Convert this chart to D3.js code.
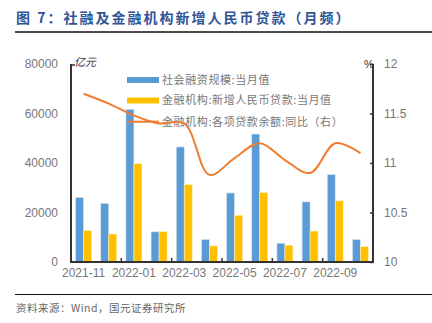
<!DOCTYPE html>
<html><head><meta charset="utf-8">
<script src="https://cdn.jsdelivr.net/npm/d3@7/dist/d3.min.js"></script>
<style>
body{margin:0;background:#fff;}
svg{display:block;font-family:"Liberation Sans",Arial,sans-serif;}
</style></head>
<body><svg id="c" width="432" height="323"></svg>
<script>
const months = ["2021-11","2021-12","2022-01","2022-02","2022-03","2022-04","2022-05","2022-06","2022-07","2022-08","2022-09","2022-10"];
const socialFinancing = [26100,23700,61700,12200,46500,9100,27900,51700,7600,24300,35300,9100];
const newLoans = [12700,11300,39800,12300,31300,6500,18900,28100,6800,12500,24700,6200];
const loanGrowth = [11.7,11.6,11.48,11.4,11.4,10.88,11.05,11.2,11.03,10.9,11.2,11.1];
const leftTicks = [0,20000,40000,60000,80000];
const rightTicks = [10,10.5,11,11.5,12];
const rightTickLabels = ["10","10.5","11","11.5","12"];
const xLabels = ["2021-11","2022-01","2022-03","2022-05","2022-07","2022-09"];
const seriesNames = ["社会融资规模:当月值","金融机构:新增人民币贷款:当月值","金融机构:各项贷款余额:同比（右）"];

const svg = d3.select("#c");
const L = 71, R = 373, T = 64, B = 262;
const cjk = '"Noto Sans CJK SC","Noto Sans",sans-serif';

// title
svg.append("text").attr("x",16).attr("y",23).attr("font-family",cjk).attr("font-weight","bold")
  .attr("font-size",14).attr("fill","#2F5597").attr("letter-spacing",2).text("图 7：社融及金融机构新增人民币贷款（月频）");
svg.append("line").attr("x1",15).attr("x2",432).attr("y1",32).attr("y2",32).attr("stroke","#111").attr("stroke-width",1.6);
svg.append("line").attr("x1",15).attr("x2",432).attr("y1",294.5).attr("y2",294.5).attr("stroke","#111").attr("stroke-width",1.2);
svg.append("text").attr("x",16).attr("y",312).attr("font-family",cjk).attr("font-size",10.5).attr("fill","#666")
  .attr("letter-spacing",0.5).text("资料来源：Wind，国元证券研究所");

const x = d3.scaleBand().domain(months).range([L,R]);
const yL = d3.scaleLinear().domain([0,80000]).range([B,T]);
const yR = d3.scaleLinear().domain([10,12]).range([B,T]);
const bw = 8;

// bars
const g = svg.append("g");
g.selectAll(".b1").data(months).enter().append("rect")
  .attr("x",d=>x(d)+x.bandwidth()/2-bw).attr("width",bw)
  .attr("y",(d,i)=>yL(socialFinancing[i])).attr("height",(d,i)=>B-yL(socialFinancing[i]))
  .attr("fill","#5B9BD5").attr("stroke","#dbe8f5").attr("stroke-width",0.6);
g.selectAll(".b2").data(months).enter().append("rect")
  .attr("x",d=>x(d)+x.bandwidth()/2).attr("width",bw)
  .attr("y",(d,i)=>yL(newLoans[i])).attr("height",(d,i)=>B-yL(newLoans[i]))
  .attr("fill","#FFC000").attr("stroke","#fff0c0").attr("stroke-width",0.6);

// legend
const lg = svg.append("g").attr("font-family",cjk).attr("font-size",11).attr("fill","#777").attr("letter-spacing",0.6);
lg.append("rect").attr("x",127).attr("y",77).attr("width",32).attr("height",6).attr("fill","#5B9BD5");
lg.append("rect").attr("x",127).attr("y",97.5).attr("width",32).attr("height",6).attr("fill","#FFC000");
lg.append("line").attr("x1",127).attr("x2",159).attr("y1",121.7).attr("y2",121.7).attr("stroke","#ED7D31").attr("stroke-width",2);
[80,100.5,121.7].forEach((yy,i)=>lg.append("text").attr("x",162).attr("y",yy).attr("dy","0.35em").text(seriesNames[i]));

// line
const line = d3.line().x((d,i)=>x(months[i])+x.bandwidth()/2).y(d=>yR(d)).curve(d3.curveCatmullRom.alpha(0.5));
svg.append("path").datum(loanGrowth).attr("d",line).attr("fill","none").attr("stroke","#ED7D31").attr("stroke-width",2);

// axes
const axCol = "#333";
const gl = svg.append("g").attr("transform",`translate(${L},0)`)
  .call(d3.axisLeft(yL).tickValues(leftTicks).tickSize(0).tickPadding(13).tickFormat(d3.format("d")));
gl.select(".domain").remove();
gl.selectAll("text").attr("fill","#777").attr("font-size",12);
svg.append("line").attr("x1",L).attr("x2",L).attr("y1",T).attr("y2",B).attr("stroke",axCol).attr("stroke-width",2);
svg.append("line").attr("x1",L).attr("x2",L+4).attr("y1",T+1).attr("y2",T+1).attr("stroke",axCol).attr("stroke-width",1.5);

const gr = svg.append("g").attr("transform",`translate(${R},0)`)
  .call(d3.axisRight(yR).tickValues(rightTicks).tickSize(-3).tickPadding(11).tickFormat((d,i)=>rightTickLabels[i]));
gr.select(".domain").remove();
gr.selectAll("line").attr("stroke",axCol).attr("stroke-width",1.5);
gr.selectAll("text").attr("fill","#777").attr("font-size",12);
svg.append("line").attr("x1",R).attr("x2",R).attr("y1",T).attr("y2",B).attr("stroke",axCol).attr("stroke-width",2);

// x axis
svg.append("line").attr("x1",L-1).attr("x2",R+1).attr("y1",B).attr("y2",B).attr("stroke",axCol).attr("stroke-width",2);
const tickPos = d3.range(0,months.length+1,2).map(i=> i<months.length ? x(months[i]) : R);
svg.selectAll(".xt").data(tickPos).enter().append("line")
  .attr("x1",d=>d).attr("x2",d=>d).attr("y1",B).attr("y2",B-4).attr("stroke",axCol).attr("stroke-width",1.5);
svg.selectAll(".xl").data(xLabels).enter().append("text")
  .attr("x",d=>x(d)+x.bandwidth()/2).attr("y",B+15).attr("text-anchor","middle")
  .attr("font-size",12).attr("fill","#777").text(d=>d);

// units
svg.append("text").attr("x",74).attr("y",66).attr("font-family",cjk).attr("font-style","italic").attr("font-size",11).attr("fill","#333").text("亿元");
svg.append("text").attr("x",364).attr("y",68).attr("font-size",11).attr("fill","#333").text("%");
</script></body></html>
